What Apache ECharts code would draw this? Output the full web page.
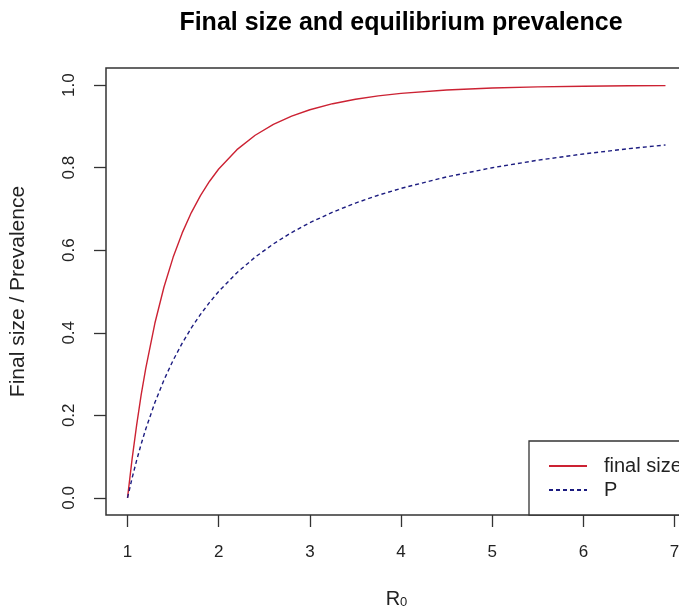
<!DOCTYPE html>
<html>
<head>
<meta charset="utf-8">
<script src="https://cdn.jsdelivr.net/npm/echarts@6/dist/echarts.min.js"></script>
<style>html,body{margin:0;padding:0;background:#fff}#c{width:679px;height:611px}</style>
</head>
<body>
<div id="c"></div>
<script>
const R0 = [1, 1.05, 1.1, 1.15, 1.2, 1.3, 1.4, 1.5, 1.6, 1.7, 1.8, 1.9, 2, 2.2, 2.4, 2.6, 2.8, 3, 3.25, 3.5, 3.75, 4, 4.5, 5, 5.5, 6, 6.5, 6.9];
const finalSize = [0, 0.0937, 0.176, 0.250, 0.3137, 0.423, 0.5108, 0.5828, 0.642, 0.6913, 0.7325, 0.7672, 0.7968, 0.8437, 0.8786, 0.9049, 0.9251, 0.9405, 0.9551, 0.966, 0.9741, 0.9802, 0.9883, 0.993, 0.9958, 0.9975, 0.9985, 0.999];
const prevalence = [0, 0.0476, 0.0909, 0.1304, 0.1667, 0.2308, 0.2857, 0.3333, 0.375, 0.4118, 0.4444, 0.4737, 0.5, 0.5455, 0.5833, 0.6154, 0.6429, 0.6667, 0.6923, 0.7143, 0.7333, 0.75, 0.7778, 0.8, 0.8182, 0.8333, 0.8462, 0.8551];
const xTicks = [1, 2, 3, 4, 5, 6, 7];
const yTicks = [0, 0.2, 0.4, 0.6, 0.8, 1.0];
const seriesNames = ['final size', 'P'];

const font = 'Liberation Sans, Arial, sans-serif';
const chart = echarts.init(document.getElementById('c'), null, {renderer: 'canvas'});
chart.setOption({
  animation: false,
  backgroundColor: '#fff',
  title: {
    text: 'Final size and equilibrium prevalence',
    left: 396, textAlign: 'center', top: 6,
    textStyle: {fontFamily: font, fontWeight: 'bold', fontSize: 25, color: '#000'}
  },
  grid: {left: 106, right: -8, top: 68, bottom: 96, containLabel: false, outerBoundsMode: 'none',
    show: true, borderColor: '#333', borderWidth: 1.5, backgroundColor: 'transparent'},
  xAxis: {
    type: 'value', min: 0.764, max: 7.136,
    name: '{r|R}{s|0}', nameLocation: 'middle', nameGap: 74,
    nameTextStyle: {fontFamily: font, fontSize: 20, color: '#222',
      rich: {
        r: {fontFamily: font, fontSize: 20, lineHeight: 20, color: '#222'},
        s: {fontFamily: font, fontSize: 13, lineHeight: 13, padding: [12, 0, 0, 0], verticalAlign: 'bottom', color: '#222'}
      }},
    axisLine: {show: false, onZero: false},
    splitLine: {show: false},
    axisTick: {show: true, customValues: xTicks, length: 12, lineStyle: {color: '#333', width: 1.3}},
    axisLabel: {customValues: xTicks, margin: 29, fontFamily: font, fontSize: 17, color: '#222', formatter: v => String(v)}
  },
  yAxis: {
    type: 'value', min: -0.0416, max: 1.0416,
    name: 'Final size / Prevalence', nameLocation: 'middle', nameGap: 77,
    nameTextStyle: {fontFamily: font, fontSize: 21, color: '#222'},
    axisLine: {show: false, onZero: false},
    splitLine: {show: false},
    axisTick: {show: true, customValues: yTicks, length: 12, lineStyle: {color: '#333', width: 1.3}},
    axisLabel: {customValues: yTicks, rotate: 90, margin: 28, fontFamily: font, fontSize: 17, color: '#222',
      formatter: v => v.toFixed(1)}
  },
  legend: {
    show: true,
    orient: 'vertical', left: 529, top: 441,
    padding: [15, 80, 15, 19], itemGap: 4,
    borderColor: '#333', borderWidth: 1.3, backgroundColor: '#fff',
    itemWidth: 38, itemHeight: 20,
    itemStyle: {opacity: 0},
    textStyle: {fontFamily: font, fontSize: 20, color: '#222', padding: [0, 0, 0, 12]},
    data: seriesNames
  },
  series: [
    {name: seriesNames[0], type: 'line', showSymbol: false, symbol: 'none', smooth: false,
     data: R0.map((x, i) => [x, finalSize[i]]),
     lineStyle: {color: '#cc2233', width: 1.4}, itemStyle: {color: '#cc2233'}},
    {name: seriesNames[1], type: 'line', showSymbol: false, symbol: 'none', smooth: false,
     data: R0.map((x, i) => [x, prevalence[i]]),
     lineStyle: {color: '#1c1c80', width: 1.4, type: [4, 3]}, itemStyle: {color: '#1c1c80'}}
  ]
});
</script>
</body>
</html>
